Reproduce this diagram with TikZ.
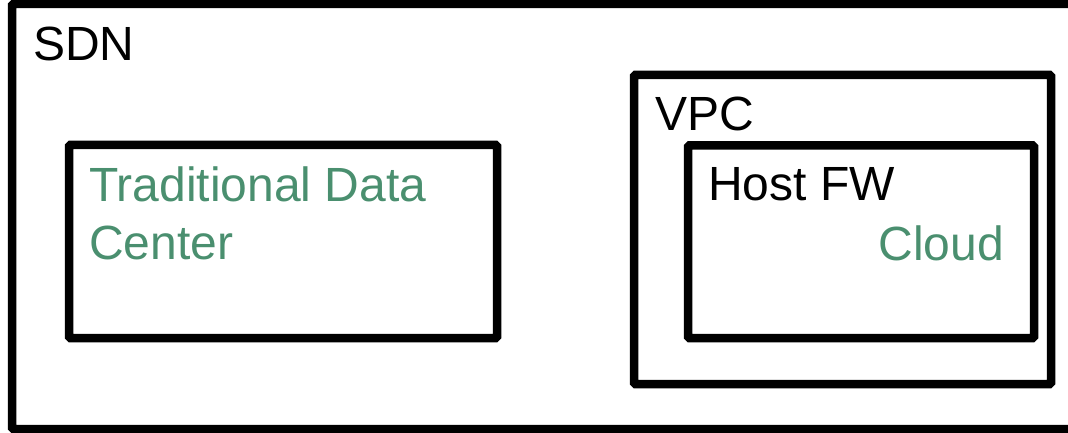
\documentclass[tikz,border=0pt]{standalone}
\usepackage{fontspec}
\setmainfont{Liberation Sans}
\definecolor{tgreen}{RGB}{74,143,111}
\begin{document}
\begin{tikzpicture}[x=1pt,y=-1pt,
  box/.style={draw=black, line width=8.5pt, rounded corners=1.5pt, inner sep=0pt, outer sep=0pt, anchor=north west},
  lbl/.style={inner sep=0pt, font=\fontsize{48}{58}\selectfont, align=left}]
\useasboundingbox (0,0) rectangle (1068,433);
\clip (0,0) rectangle (1068,433);
\node[box, minimum width=1080pt, minimum height=425pt] (sdn) at (12,4) {};
\node[box, minimum width=428pt, minimum height=193pt] (tdc) at (69,145) {};
\node[box, minimum width=417pt, minimum height=309pt] (vpc) at (634,75) {};
\node[box, minimum width=346pt, minimum height=192.5pt] (host) at (688,145.5) {};
\node[lbl, anchor=base west] (sdnl) at (33,61) {SDN};
\node[lbl, anchor=base west, text=tgreen] (tdcl) at (89,259) {Traditional Data\\Center};
\node[lbl, anchor=base west] (vpcl) at (655,131) {VPC};
\node[lbl, anchor=base west] (hostl) at (708,200) {Host FW};
\node[lbl, anchor=base east, text=tgreen] (cloudl) at (1004,260) {Cloud};
\end{tikzpicture}
\end{document}
